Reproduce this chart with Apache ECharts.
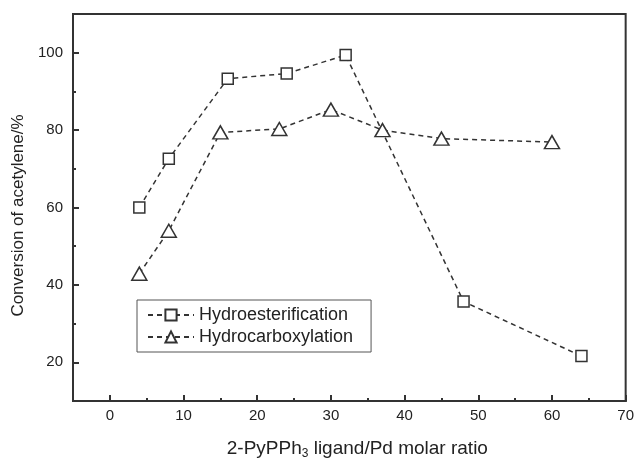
<!DOCTYPE html>
<html lang="en">
<head>
    <meta charset="UTF-8">
    <title>Conversion of acetylene</title>
    <script src="https://cdn.jsdelivr.net/npm/echarts@6/dist/echarts.min.js"></script>
    <style>
        html, body { margin: 0; padding: 0; background: #fff; }
        #chart { width: 637px; height: 465px; }
    </style>
</head>
<body>
    <div id="chart"></div>
    <script>
        // 数据
        var esterRatio = [4, 8, 16, 24, 32, 48, 64];
        var esterConv = [60, 72.6, 93.3, 94.6, 99.4, 35.7, 21.6];
        var carboxRatio = [4, 8, 15, 23, 30, 37, 45, 60];
        var carboxConv = [42.9, 54, 79.4, 80.3, 85.3, 80, 77.8, 76.9];
        var seriesNames = ['Hydroesterification', 'Hydrocarboxylation'];
        // 刻度
        var xTicks = [0, 10, 20, 30, 40, 50, 60, 70];
        var yTicks = [20, 40, 60, 80, 100];

        function pairs(xs, ys) {
            var out = [];
            for (var i = 0; i < xs.length; i++) {
                out.push([xs[i], ys[i]]);
            }
            return out;
        }

        var myChart = echarts.init(document.getElementById('chart'));
        var ink = '#333';
        var font = 'Liberation Sans, Arial, sans-serif';
        var labelStyle = { fontFamily: font, fontSize: 15, color: '#222' };

        var option = {
            animation: false,
            backgroundColor: '#fff',
            grid: {
                left: 73,
                right: 8,
                top: 14,
                bottom: 54,
                show: true,
                borderColor: ink,
                borderWidth: 2
            },
            legend: {
                orient: 'vertical',
                left: 137,
                top: 300,
                padding: [6, 18, 6, 10],
                itemGap: 4,
                itemWidth: 46,
                itemHeight: 14,
                borderColor: '#555',
                borderWidth: 1,
                borderRadius: 0,
                textStyle: { fontFamily: font, fontSize: 18, color: '#222' },
                data: seriesNames
            },
            xAxis: [
                {
                    type: 'value',
                    min: -5,
                    max: 70,
                    interval: 5,
                    position: 'bottom',
                    axisLine: { onZero: false, lineStyle: { color: ink, width: 2 } },
                    axisTick: { inside: true, length: 3, lineStyle: { color: ink, width: 2 } },
                    splitLine: { show: false },
                    axisLabel: Object.assign({ margin: 7, customValues: xTicks }, labelStyle),
                    name: '2-PyPPh{sub|3} ligand/Pd molar ratio',
                    nameLocation: 'middle',
                    nameGap: 37,
                    nameTextStyle: {
                        fontFamily: font, fontSize: 19, color: '#222',
                        padding: [0, 0, 0, 16],
                        rich: { sub: { fontFamily: font, fontSize: 12, color: '#222', padding: [10, 0, 0, 0] } }
                    }
                },
                {
                    // 主刻度
                    type: 'value',
                    min: -5,
                    max: 70,
                    position: 'bottom',
                    offset: 0,
                    axisLine: { show: true, onZero: false, lineStyle: { color: ink, width: 2 } },
                    axisTick: { show: true, inside: true, length: 6, customValues: xTicks, lineStyle: { color: ink, width: 2 } },
                    axisLabel: { show: false },
                    splitLine: { show: false }
                }
            ],
            yAxis: [
                {
                    type: 'value',
                    min: 10,
                    max: 110,
                    interval: 10,
                    position: 'left',
                    axisLine: { onZero: false, lineStyle: { color: ink, width: 2 } },
                    axisTick: { inside: true, length: 3, lineStyle: { color: ink, width: 2 } },
                    splitLine: { show: false },
                    axisLabel: Object.assign({ margin: 10, customValues: yTicks }, labelStyle),
                    name: 'Conversion of acetylene/%',
                    nameLocation: 'middle',
                    nameGap: 38,
                    nameTextStyle: { fontFamily: font, fontSize: 17, color: '#222', padding: [0, 16, 0, 0] }
                },
                {
                    type: 'value',
                    min: 10,
                    max: 110,
                    position: 'left',
                    offset: 0,
                    axisLine: { show: true, onZero: false, lineStyle: { color: ink, width: 2 } },
                    axisTick: { show: true, inside: true, length: 6, customValues: yTicks, lineStyle: { color: ink, width: 2 } },
                    axisLabel: { show: false },
                    splitLine: { show: false }
                }
            ],
            series: [
                {
                    name: seriesNames[0],
                    type: 'line',
                    data: pairs(esterRatio, esterConv),
                    symbol: 'rect',
                    symbolSize: 11,
                    color: ink,
                    lineStyle: { color: ink, width: 1.5, type: [5, 4] },
                    itemStyle: { color: '#fff', borderColor: ink, borderWidth: 1.5 }
                },
                {
                    name: seriesNames[1],
                    type: 'line',
                    data: pairs(carboxRatio, carboxConv),
                    symbol: 'triangle',
                    symbolSize: [15, 13],
                    color: ink,
                    lineStyle: { color: ink, width: 1.5, type: [5, 4] },
                    itemStyle: { color: '#fff', borderColor: ink, borderWidth: 1.5 }
                }
            ]
        };

        myChart.setOption(option);
    </script>
</body>
</html>
